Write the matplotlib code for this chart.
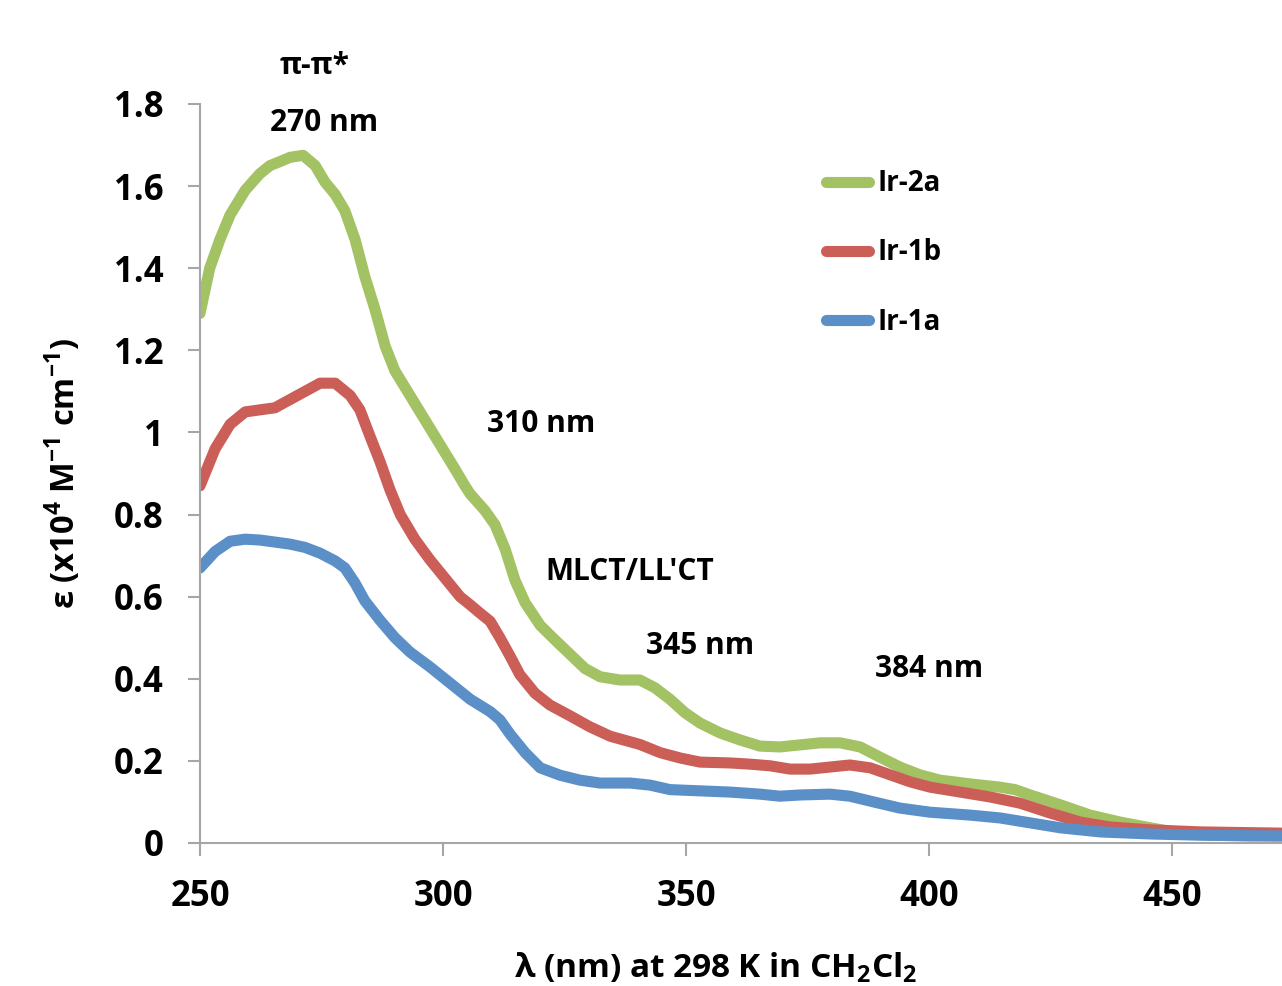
import matplotlib
matplotlib.use("Agg")
import matplotlib.pyplot as plt

plt.rcParams['font.family'] = ['Open Sans', 'DejaVu Sans']
plt.rcParams['font.weight'] = 'bold'
plt.rcParams['mathtext.fontset'] = 'custom'
plt.rcParams['mathtext.rm'] = 'Open Sans'
plt.rcParams['mathtext.bf'] = 'Open Sans:bold'

# Ir-2a (green)
wl_2a = [250, 252, 254.1, 256.2, 259.3, 262.3, 264.4, 266.5, 268.5, 271.2, 273.7, 275.7,
         277.8, 279.8, 281.9, 283.9, 286, 288.1, 290.1, 293.2, 296.3, 299.4, 302.5, 304.5,
         305.6, 308.6, 310.7, 312.8, 314.8, 316.9, 320, 323, 326.1, 329.2, 332.3, 336.4,
         340.5, 343.6, 346.7, 349.8, 352.9, 357, 361.1, 365.2, 369.3, 373.5, 377.6, 381.7,
         385.8, 389.9, 394, 398.1, 402.3, 408.4, 414.6, 417.7, 420.8, 427, 433.1, 439.3,
         445.5, 451.6, 457.8, 466, 472.6]
eps_2a = [1.29, 1.40, 1.47, 1.53, 1.59, 1.63, 1.65, 1.66, 1.67, 1.675, 1.65, 1.61,
          1.58, 1.54, 1.47, 1.38, 1.30, 1.21, 1.15, 1.09, 1.03, 0.97, 0.91, 0.87,
          0.85, 0.81, 0.775, 0.715, 0.64, 0.585, 0.53, 0.495, 0.46, 0.425, 0.405, 0.397,
          0.397, 0.378, 0.35, 0.317, 0.292, 0.268, 0.251, 0.236, 0.234, 0.239, 0.244, 0.244,
          0.234, 0.209, 0.185, 0.166, 0.153, 0.144, 0.136, 0.13, 0.117, 0.093, 0.068, 0.051,
          0.037, 0.024, 0.019, 0.017, 0.017]

# Ir-1b (red)
wl_1b = [250, 253.1, 256.2, 259.3, 262.3, 265.4, 268.5, 271.6, 274.7, 277.8, 280.9, 282.9,
         285, 287, 289.1, 291.2, 294.2, 297.3, 300.4, 303.5, 305.6, 307.6, 309.7, 311.7,
         313.8, 315.8, 318.9, 322, 326.1, 330.2, 334.4, 340.5, 344.7, 348.8, 352.9, 359.1,
         363.2, 367.3, 371.4, 375.5, 379.6, 383.7, 387.9, 392, 396.1, 400.2, 406.4, 412.6,
         418.7, 424.9, 431.1, 437.2, 445.5, 455.8, 472.6]
eps_1b = [0.87, 0.96, 1.02, 1.05, 1.055, 1.06, 1.08, 1.10, 1.12, 1.12, 1.09, 1.055,
          0.99, 0.93, 0.86, 0.80, 0.74, 0.69, 0.645, 0.60, 0.58, 0.56, 0.54, 0.50,
          0.455, 0.41, 0.365, 0.336, 0.31, 0.283, 0.26, 0.24, 0.22, 0.207, 0.197, 0.195,
          0.192, 0.188, 0.18, 0.18, 0.185, 0.19, 0.183, 0.166, 0.149, 0.136, 0.124, 0.112,
          0.097, 0.073, 0.051, 0.039, 0.032, 0.027, 0.024]

# Ir-1a (blue)
wl_1a = [250, 253.1, 256.2, 259.3, 262.3, 265.4, 268.5, 271.6, 274.7, 277.8, 279.8, 281.9,
         283.9, 287, 290.1, 293.2, 297.3, 301.4, 305.6, 309.7, 311.7, 313.8, 316.9, 320,
         324.1, 328.2, 332.3, 338.5, 342.6, 346.7, 352.9, 359.1, 365.2, 369.3, 373.5, 379.6,
         383.7, 387.9, 394, 400.2, 408.4, 414.6, 420.8, 427, 435.2, 445.5, 455.8, 472.6]
eps_1a = [0.67, 0.71, 0.735, 0.74, 0.738, 0.733, 0.728, 0.72, 0.706, 0.687, 0.67, 0.633,
          0.59, 0.543, 0.50, 0.465, 0.429, 0.39, 0.35, 0.32, 0.30, 0.265, 0.22, 0.183,
          0.165, 0.153, 0.146, 0.146, 0.141, 0.13, 0.127, 0.124, 0.119, 0.114, 0.117, 0.119,
          0.114, 0.102, 0.085, 0.075, 0.068, 0.061, 0.049, 0.037, 0.027, 0.022, 0.019, 0.017]

xticks = [250, 300, 350, 400, 450]
yticks = [0, 0.2, 0.4, 0.6, 0.8, 1, 1.2, 1.4, 1.6, 1.8]
ytick_labels = ['0', '0.2', '0.4', '0.6', '0.8', '1', '1.2', '1.4', '1.6', '1.8']

fig = plt.figure(figsize=(12.82, 9.86), dpi=100)
ax = fig.add_axes([200/1282, 1-843/986, 1-200/1282, (843-104)/986])

lw = 8
ax.plot(wl_2a, eps_2a, color='#A3C264', lw=lw, solid_capstyle='round', solid_joinstyle='round', label='Ir-2a')
ax.plot(wl_1b, eps_1b, color='#CB5F58', lw=lw, solid_capstyle='round', solid_joinstyle='round', label='Ir-1b')
ax.plot(wl_1a, eps_1a, color='#5A8FC7', lw=lw, solid_capstyle='round', solid_joinstyle='round', label='Ir-1a')

ax.set_xlim(250, 472.6)
ax.set_ylim(0, 1.8)
ax.set_xticks(xticks)
ax.set_yticks(yticks)
ax.set_yticklabels(ytick_labels)

for s in ['top', 'right']:
    ax.spines[s].set_visible(False)
for s in ['left', 'bottom']:
    ax.spines[s].set_color('#A6A6A6')
    ax.spines[s].set_linewidth(1.5)
ax.tick_params(axis='both', direction='out', length=9, width=1.5, color='#A6A6A6',
               labelsize=25)
ax.tick_params(axis='x', pad=17)
ax.tick_params(axis='y', pad=17)
for lab in ax.get_xticklabels() + ax.get_yticklabels():
    lab.set_fontweight('bold')

ax.set_xlabel(r'λ (nm) at 298 K in CH$_\mathbf{2}$Cl$_\mathbf{2}$', fontsize=24, fontweight='bold')
ax.xaxis.set_label_coords((716-200)/1082, -(968-843)/739, transform=ax.transAxes)
ax.xaxis.label.set_va('center')
ax.set_ylabel(r'ε (x10$^\mathbf{4}$ M$^\mathbf{-1}$ cm$^\mathbf{-1}$)', fontsize=23.5, fontweight='bold', labelpad=22)

ann = dict(fontsize=21.5, fontweight='bold', ha='center', va='center', clip_on=False)
ax.text(273.5, 1.892, 'π-π*', **ann)
ax.text(275.5, 1.753, '270 nm', **ann)
ax.text(320.2, 1.020, '310 nm', **ann)
ax.text(338.5, 0.660, "MLCT/LL'CT", **ann)
ax.text(352.9, 0.480, '345 nm', **ann)
ax.text(400.0, 0.424, '384 nm', **ann)

leg = ax.legend(loc='center left', bbox_to_anchor=(826/1282, 1-253/986), bbox_transform=fig.transFigure,
                frameon=False, fontsize=20, handlelength=1.55, handletextpad=0.3,
                labelspacing=1.45, borderpad=0, borderaxespad=0)
for t in leg.get_texts():
    t.set_fontweight('bold')

fig.savefig('out.png', dpi=100)
